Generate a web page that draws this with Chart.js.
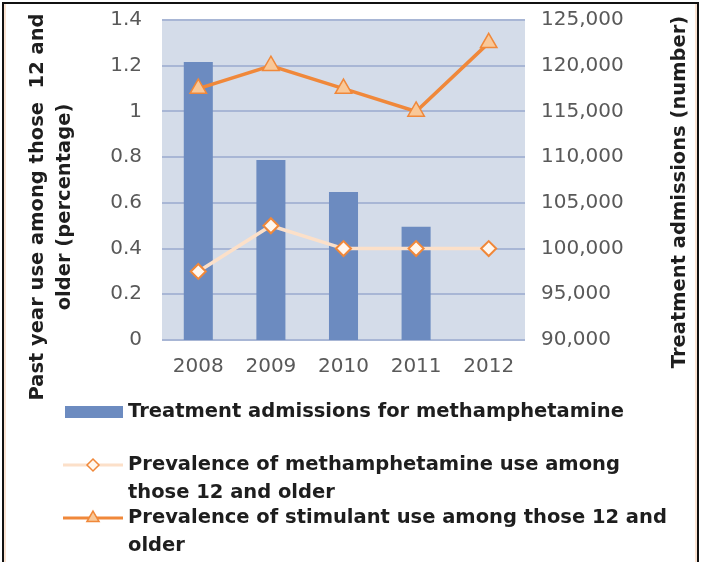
<!DOCTYPE html>
<html><head><meta charset="utf-8">
<script src="https://cdn.jsdelivr.net/npm/chart.js@4.4.1/dist/chart.umd.min.js"></script>
<style>
html,body{margin:0;padding:0;background:#fff;overflow:hidden}
#wrap{position:relative;width:702px;height:562px}
#frame{position:absolute;left:2px;top:2px;width:693px;height:600px;border:2px solid #111;pointer-events:none;box-shadow:inset 2px 0 0 #FBE3D2, inset -2px 0 0 #FBE3D2}
</style></head><body>
<div id="wrap"><canvas id="c"></canvas><div id="frame"></div></div>
<script>
const years = ['2008', '2009', '2010', '2011', '2012'];
const admissions = [120400, 109700, 106200, 102400, null];
const methPrevalence = [0.3, 0.5, 0.4, 0.4, 0.4];
const stimulantPrevalence = [1.1, 1.2, 1.1, 1.0, 1.3];
const leftTicks = [0, 0.2, 0.4, 0.6, 0.8, 1, 1.2, 1.4];
const leftTickLabels = ['0', '0.2', '0.4', '0.6', '0.8', '1', '1.2', '1.4'];
const rightTicks = [90000, 95000, 100000, 105000, 110000, 115000, 120000, 125000];
const rightTickLabels = ['90,000', '95,000', '100,000', '105,000', '110,000', '115,000', '120,000', '125,000'];
const seriesLabels = [
  'Treatment admissions for methamphetamine',
  'Prevalence of methamphetamine use among those 12 and older',
  'Prevalence of stimulant use among those 12 and older'
];
const leftTitle = ['Past year use among those  12 and', 'older (percentage)'];
const rightTitle = 'Treatment admissions (number)';

const FONT = '"DejaVu Sans", sans-serif';
const BLUE = '#6C8BC0';
const ORANGE = '#F0883A';
const PEACH_LINE = '#FCE0C9';

function wrapText(ctx, text, maxW) {
  const words = text.split(' ');
  const lines = [];
  let cur = '';
  for (const w of words) {
    const t = cur ? cur + ' ' + w : w;
    if (ctx.measureText(t).width > maxW && cur) { lines.push(cur); cur = w; }
    else cur = t;
  }
  if (cur) lines.push(cur);
  return lines;
}

function triangle(ctx, x, y, r) {
  ctx.beginPath();
  for (let k = 0; k < 3; k++) {
    const a = k * 2 * Math.PI / 3;
    const px = x + Math.sin(a) * r, py = y - Math.cos(a) * r;
    if (k === 0) ctx.moveTo(px, py); else ctx.lineTo(px, py);
  }
  ctx.closePath();
}
function diamond(ctx, x, y, r) {
  ctx.beginPath();
  ctx.moveTo(x, y - r); ctx.lineTo(x + r, y); ctx.lineTo(x, y + r); ctx.lineTo(x - r, y);
  ctx.closePath();
}

const decor = {
  id: 'decor',
  beforeDraw(chart) {
    const {ctx, chartArea: a} = chart;
    ctx.save();
    ctx.fillStyle = '#D4DCE9';
    ctx.fillRect(a.left, a.top, a.right - a.left, a.bottom - a.top);
    ctx.restore();
  },
  afterDraw(chart) {
    const ctx = chart.ctx;
    ctx.save();
    ctx.fillStyle = '#1E1E1E';
    ctx.font = 'bold 19.5px ' + FONT;
    ctx.textAlign = 'center';
    ctx.textBaseline = 'middle';
    const lx = [38, 65];
    leftTitle.forEach((t, i) => {
      ctx.save(); ctx.translate(lx[i], 207); ctx.rotate(-Math.PI / 2); ctx.fillText(t, 0, 0); ctx.restore();
    });
    ctx.save(); ctx.translate(680, 192); ctx.rotate(-Math.PI / 2); ctx.fillText(rightTitle, 0, 0); ctx.restore();

    ctx.textAlign = 'left';
    const ds = chart.data.datasets;
    const itemY = [412, 465, 518];
    const textX = 128;
    ds.forEach((d, i) => {
      const y = itemY[i];
      if (d.type === 'bar') {
        ctx.fillStyle = d.backgroundColor;
        ctx.fillRect(65, y - 6, 58, 12);
      } else {
        ctx.strokeStyle = d.borderColor;
        ctx.lineWidth = 3;
        ctx.beginPath(); ctx.moveTo(63, y); ctx.lineTo(123, y); ctx.stroke();
        ctx.lineWidth = 1.5;
        ctx.fillStyle = d.pointBackgroundColor;
        ctx.strokeStyle = d.pointBorderColor;
        if (d.pointStyle === 'triangle') triangle(ctx, 93, y, 7); else diamond(ctx, 93, y, 6);
        ctx.fill(); ctx.stroke();
      }
      ctx.fillStyle = '#1E1E1E';
      const lines = wrapText(ctx, d.label, 554);
      lines.forEach((ln, k) => ctx.fillText(ln, textX, y + k * 28));
    });
    ctx.restore();
  }
};

function noPad(s) { s.paddingTop = 0; s.paddingBottom = 0; s.paddingLeft = 0; s.paddingRight = 0; }

new Chart(document.getElementById('c'), {
  data: {
    labels: years,
    datasets: [
      {
        type: 'bar', label: seriesLabels[0], data: admissions, yAxisID: 'y1',
        backgroundColor: BLUE, barPercentage: 0.4, categoryPercentage: 1.0, order: 3
      },
      {
        type: 'line', label: seriesLabels[1], data: methPrevalence, yAxisID: 'y',
        borderColor: PEACH_LINE, borderWidth: 3.5, tension: 0,
        pointStyle: 'rectRot', pointRadius: 7.5, pointBorderWidth: 2,
        pointBackgroundColor: '#FFF7EF', pointBorderColor: ORANGE, order: 2
      },
      {
        type: 'line', label: seriesLabels[2], data: stimulantPrevalence, yAxisID: 'y',
        borderColor: ORANGE, borderWidth: 3.5, tension: 0,
        pointStyle: 'triangle', pointRadius: 9.5, pointBorderWidth: 1.5,
        pointBackgroundColor: '#F9C898', pointBorderColor: ORANGE, order: 1
      }
    ]
  },
  options: {
    responsive: true, maintainAspectRatio: false, animation: false,
    layout: {padding: {left: 0, right: 0, top: 20, bottom: 182}},
    plugins: {legend: {display: false}, tooltip: {enabled: false}},
    scales: {
      x: {
        offset: true,
        grid: {display: false, drawTicks: false},
        border: {display: false},
        ticks: {font: {family: FONT, size: 20}, color: '#595959', padding: 15, maxRotation: 0},
        afterFit: s => { s.height = 40; noPad(s); }
      },
      y: {
        position: 'left', min: 0, max: 1.4,
        afterBuildTicks: s => { s.ticks = leftTicks.map(v => ({value: v})); },
        ticks: {callback: (v, i) => leftTickLabels[i], font: {family: FONT, size: 20}, color: '#595959', padding: 20},
        grid: {color: '#A8B6D5', lineWidth: 2, drawTicks: false},
        border: {display: false},
        afterFit: s => { s.width = 162; noPad(s); }
      },
      y1: {
        position: 'right', min: 90000, max: 125000,
        afterBuildTicks: s => { s.ticks = rightTicks.map(v => ({value: v})); },
        ticks: {callback: (v, i) => rightTickLabels[i], font: {family: FONT, size: 20}, color: '#595959', padding: 16},
        grid: {display: false, drawTicks: false},
        border: {display: false},
        afterFit: s => { s.width = 177; noPad(s); }
      }
    }
  },
  plugins: [decor]
});
</script>
</body></html>
